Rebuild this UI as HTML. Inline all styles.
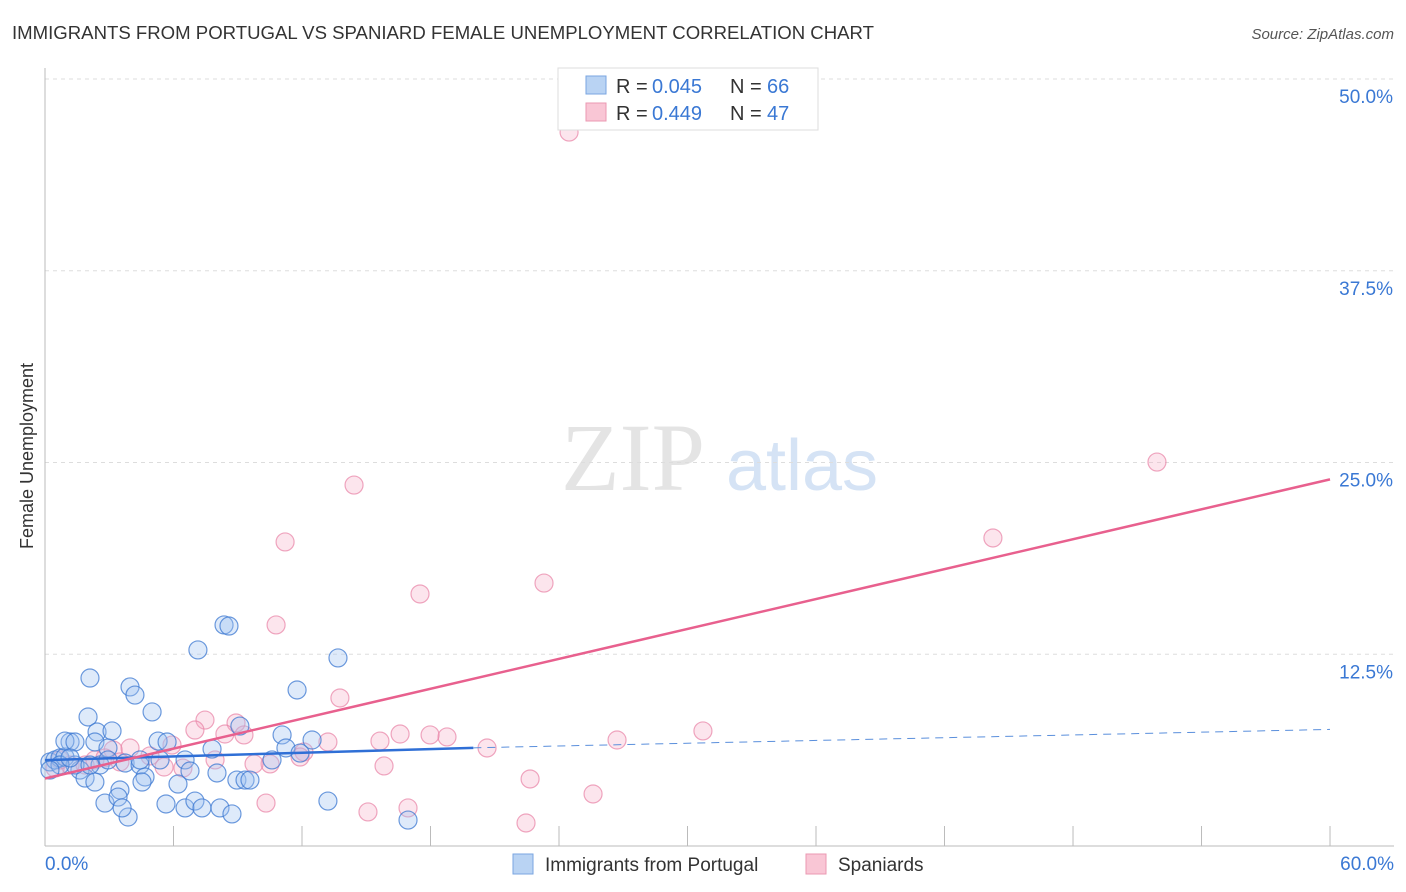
<!DOCTYPE html>
<html><head><meta charset="utf-8"><style>
body{margin:0;background:#fff;font-family:"Liberation Sans",sans-serif;}
#wrap{position:relative;width:1406px;height:892px;overflow:hidden;}
</style></head><body>
<div id="wrap">
<svg id="svg" width="1406" height="892" xmlns="http://www.w3.org/2000/svg">
<text x="12" y="39" font-size="18" fill="#333" textLength="862" lengthAdjust="spacingAndGlyphs">IMMIGRANTS FROM PORTUGAL VS SPANIARD FEMALE UNEMPLOYMENT CORRELATION CHART</text>
<text x="1394" y="39" font-size="15" fill="#555" font-style="italic" text-anchor="end">Source: ZipAtlas.com</text>
<text x="33" y="456" font-size="18" fill="#333" text-anchor="middle" transform="rotate(-90 33 456)">Female Unemployment</text>
<g><text x="633" y="490" font-size="96" font-family="Liberation Serif,serif" fill="#e4e4e4" text-anchor="middle">ZIP</text><text x="802" y="490" font-size="72" fill="#d5e3f5" text-anchor="middle">atlas</text></g>
<g id="grid"></g><g id="marks"></g>
<g>
<rect x="558" y="68" width="260" height="62" fill="#fff" stroke="#ddd"/>
<rect x="586" y="76" width="20" height="18" fill="#b9d3f3" stroke="#7aa6e0"/>
<rect x="586" y="103" width="20" height="18" fill="#f9c6d5" stroke="#eb98b2"/>
<text x="616" y="93" font-size="20" fill="#333">R = <tspan x="652" fill="#3a78d4">0.045</tspan><tspan x="730">N = </tspan><tspan x="767" fill="#3a78d4">66</tspan></text>
<text x="616" y="120" font-size="20" fill="#333">R = <tspan x="652" fill="#3a78d4">0.449</tspan><tspan x="730">N = </tspan><tspan x="767" fill="#3a78d4">47</tspan></text>
</g>
<g>
<rect x="513" y="854" width="20" height="20" fill="#b9d3f3" stroke="#7aa6e0"/>
<text x="545" y="871" font-size="19" fill="#333">Immigrants from Portugal</text>
<rect x="806" y="854" width="20" height="20" fill="#f9c6d5" stroke="#eb98b2"/>
<text x="838" y="871" font-size="19" fill="#333">Spaniards</text>
</g>
</svg></div>
<script>
const yTicks=[12.5,25,37.5,50];
const yTickLabels=["12.5%","25.0%","37.5%","50.0%"];
const xTicks=[0,6,12,18,24,30,36,42,48,54,60];
const xLabels=["0.0%","60.0%"];
const bluePx=[[50,762],[55,760],[60,758],[65,757],[70,742],[65,741],[75,742],[88,717],[90,678],[97,732],[95,742],[112,731],[130,687],[135,695],[152,712],[108,748],[100,765],[80,770],[85,778],[95,782],[105,803],[120,790],[118,797],[128,817],[125,763],[140,765],[145,777],[142,782],[158,741],[167,742],[178,784],[185,760],[166,804],[185,808],[195,801],[202,808],[190,771],[198,650],[212,749],[217,773],[224,625],[229,626],[240,726],[237,780],[245,780],[250,780],[220,808],[232,814],[272,760],[282,735],[286,748],[297,690],[300,753],[312,740],[338,658],[328,801],[408,820],[108,760],[75,765],[60,765],[50,770],[70,758],[140,760],[160,760],[122,808],[90,765]];
const pinkPx=[[569,132],[1157,462],[993,538],[544,583],[420,594],[285,542],[354,485],[276,625],[340,698],[205,720],[236,723],[195,730],[244,735],[225,734],[703,731],[617,740],[447,737],[430,735],[400,734],[380,741],[328,742],[487,748],[304,752],[300,757],[215,760],[270,764],[254,764],[384,766],[183,768],[164,767],[130,748],[150,756],[113,750],[85,765],[70,765],[55,768],[95,760],[530,779],[593,794],[266,803],[408,808],[368,812],[526,823],[172,745],[120,762],[105,758],[60,760]];
const blueX=bluePx.map(p=>+((p[0]-45)/21.417).toFixed(2));
const blueY=bluePx.map(p=>+((846-p[1])/15.34).toFixed(2));
const pinkX=pinkPx.map(p=>+((p[0]-45)/21.417).toFixed(2));
const pinkY=pinkPx.map(p=>+((846-p[1])/15.34).toFixed(2));
const blueTrend=[[0,5.6],[20,6.4],[60,7.6]];
const pinkTrend=[[0,4.4],[60,23.9]];
const X=v=>45+v*21.417, Y=v=>846-v*15.34;
const NS="http://www.w3.org/2000/svg";
function mk(tag,attrs,parent){const e=document.createElementNS(NS,tag);for(const k in attrs)e.setAttribute(k,attrs[k]);parent.appendChild(e);return e;}
const grid=document.getElementById('grid'),marks=document.getElementById('marks');
yTicks.forEach((t,i)=>{
 let l=mk('line',{x1:45,x2:1394,y1:Y(t),y2:Y(t),stroke:'#ddd','stroke-dasharray':'4,4'},grid);
 
 
 let tx=mk('text',{x:1393,y:Y(t)+24,'font-size':19,fill:'#3a78d4','text-anchor':'end'},grid);tx.textContent=yTickLabels[i];
 
 
});
let ax=mk('line',{x1:45,x2:45,y1:68,y2:846,stroke:'#bbb'},grid);


let bx=mk('line',{x1:45,x2:1394,y1:846,y2:846,stroke:'#bbb'},grid);


xTicks.forEach(t=>{let l=mk('line',{x1:X(t),x2:X(t),y1:826,y2:846,stroke:'#bbb'},grid);
 
 });
[[0,'start',45],[60,'end',1394]].forEach((d,i)=>{let tx=mk('text',{x:d[2],y:870,'font-size':19,fill:'#3a78d4','text-anchor':d[1]},grid);tx.textContent=xLabels[i];
 
 });
pinkX.forEach((x,i)=>{let c=mk('circle',{cx:X(x),cy:Y(pinkY[i]),r:9,fill:'rgba(246,170,195,0.3)',stroke:'rgba(232,130,165,0.7)','stroke-width':1.2},marks);
 
 });
blueX.forEach((x,i)=>{let c=mk('circle',{cx:X(x),cy:Y(blueY[i]),r:9,fill:'rgba(160,195,240,0.35)',stroke:'rgba(60,120,210,0.75)','stroke-width':1.2},marks);
 
 });
let bt=mk('line',{x1:X(blueTrend[0][0]),y1:Y(blueTrend[0][1]),x2:X(blueTrend[1][0]),y2:Y(blueTrend[1][1]),stroke:'#2f6fd6','stroke-width':2.5},marks);


let bd=mk('line',{x1:X(blueTrend[1][0]),y1:Y(blueTrend[1][1]),x2:X(blueTrend[2][0]),y2:Y(blueTrend[2][1]),stroke:'#5a8fdc','stroke-width':1,'stroke-dasharray':'8,6'},marks);


let pt=mk('line',{x1:X(pinkTrend[0][0]),y1:Y(pinkTrend[0][1]),x2:X(pinkTrend[1][0]),y2:Y(pinkTrend[1][1]),stroke:'#e8608e','stroke-width':2.5},marks);


</script>
</body></html>
